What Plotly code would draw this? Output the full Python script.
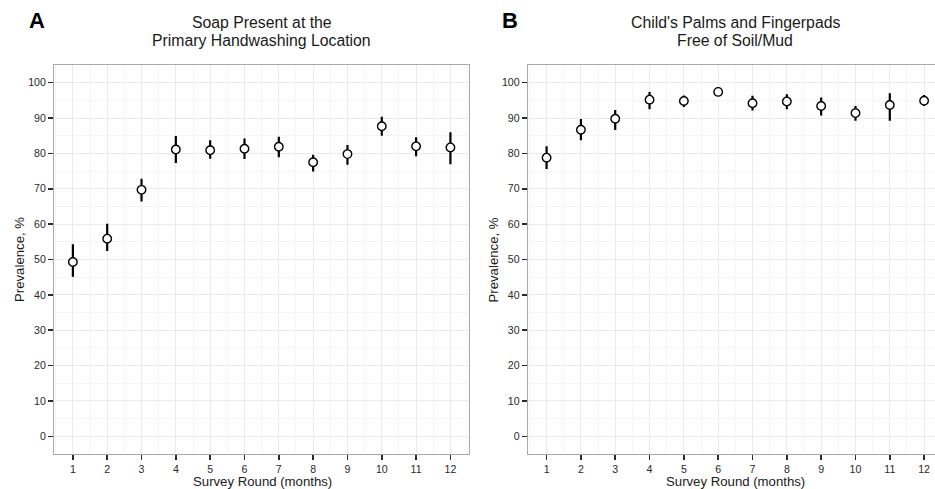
import plotly.graph_objects as go

W, H = 935, 489

rounds = list(range(1, 13))
soap = [49.3, 55.9, 69.7, 81.1, 80.9, 81.3, 81.9, 77.5, 79.8, 87.7, 82.0, 81.7]
soap_lo = [45.1, 52.4, 66.4, 77.3, 78.5, 78.4, 78.9, 74.9, 76.8, 85.0, 79.2, 76.9]
soap_hi = [54.3, 60.1, 72.8, 84.9, 83.7, 84.2, 84.7, 79.6, 82.4, 90.4, 84.6, 86.0]
palms = [78.8, 86.7, 89.8, 95.2, 94.8, 97.4, 94.2, 94.7, 93.4, 91.4, 93.7, 94.9]
palms_lo = [75.6, 83.7, 86.6, 92.5, 93.1, 96.2, 92.1, 92.5, 90.7, 89.2, 89.2, 93.4]
palms_hi = [82.0, 89.7, 92.3, 97.4, 96.4, 98.5, 96.3, 96.7, 95.8, 93.4, 97.0, 96.5]

y_ticks = [0, 10, 20, 30, 40, 50, 60, 70, 80, 90, 100]

FONT = "Liberation Sans, Arial, sans-serif"

def px_x(p):
    return p / W

def px_y(p):
    return 1 - p / H

fig = go.Figure()

def add_series(vals, lo, hi, xa, ya):
    fig.add_trace(go.Scatter(
        x=rounds, y=vals, mode="markers",
        xaxis=xa, yaxis=ya,
        marker=dict(symbol="circle", size=8.5, color="white",
                    line=dict(color="black", width=1.4)),
        error_y=dict(type="data", symmetric=False,
                     array=[h - v for h, v in zip(hi, vals)],
                     arrayminus=[v - l for v, l in zip(vals, lo)],
                     width=0, thickness=2.2, color="black"),
        showlegend=False, hoverinfo="x+y", cliponaxis=False,
    ))

add_series(soap, soap_lo, soap_hi, "x", "y")
add_series(palms, palms_lo, palms_hi, "x2", "y2")

ydom = [px_y(454), px_y(65)]
unit = (469.3 - 54) / 12.1
xr_b_end = 0.45 + (W - 527.7) / unit

common_x = dict(
    tickmode="array", tickvals=rounds, ticktext=[str(r) for r in rounds],
    showgrid=True, gridcolor="#ebebeb", gridwidth=1,
    minor=dict(dtick=0.5, tick0=0.5, showgrid=True, gridcolor="#f5f5f5", gridwidth=1, ticks=""),
    ticks="outside", ticklen=5, tickwidth=1.6, tickcolor="#2a2a2a",
    tickfont=dict(family=FONT, size=10.6, color="#2a2a2a"),
    showline=True, linecolor="#a9a9a9", linewidth=1, mirror=True,
    zeroline=False, fixedrange=True,
)
common_y = dict(
    tickmode="array", tickvals=y_ticks, ticktext=[str(v) for v in y_ticks],
    range=[-5, 105], domain=ydom,
    showgrid=True, gridcolor="#ebebeb", gridwidth=1,
    minor=dict(dtick=5, tick0=5, showgrid=True, gridcolor="#f5f5f5", gridwidth=1, ticks=""),
    ticks="outside", ticklen=5, tickwidth=1.6, tickcolor="#2a2a2a",
    tickfont=dict(family=FONT, size=10.6, color="#2a2a2a"),
    showline=True, linecolor="#a9a9a9", linewidth=1,
    zeroline=False, fixedrange=True,
)

fig.update_layout(
    width=W, height=H,
    margin=dict(l=0, r=0, t=0, b=0),
    paper_bgcolor="white", plot_bgcolor="white",
    font=dict(family=FONT, color="black"),
    xaxis=dict(common_x, domain=[px_x(54), px_x(469.3)], range=[0.45, 12.55], anchor="y"),
    yaxis=dict(common_y, anchor="x", mirror=True),
    xaxis2=dict(common_x, domain=[px_x(527.7), 1.0], range=[0.45, xr_b_end], anchor="y2"),
    yaxis2=dict(common_y, anchor="x2", mirror=False),
)

annos = []
def txt(x, y, s, size, bold=False, angle=0, color="black"):
    annos.append(dict(
        x=px_x(x), y=px_y(y), xref="paper", yref="paper",
        text=("<b>%s</b>" % s) if bold else s, showarrow=False,
        xanchor="center", yanchor="middle", textangle=angle,
        font=dict(family=FONT, size=size, color=color),
    ))

# panel letters
txt(37, 20, "A", 22, bold=True)
txt(510, 20, "B", 22, bold=True)
# titles
txt(261.7, 22.5, "Soap Present at the", 15.8, color="#1a1a1a")
txt(261.7, 40.5, "Primary Handwashing Location", 15.8, color="#1a1a1a")
txt(735.4, 22.5, "Child's Palms and Fingerpads", 15.8, color="#1a1a1a")
txt(735.4, 40.5, "Free of Soil/Mud", 15.8, color="#1a1a1a")
# axis titles
txt(19, 260, "Prevalence, %", 13.2, angle=-90, color="#1a1a1a")
txt(492.5, 260, "Prevalence, %", 13.2, angle=-90, color="#1a1a1a")
txt(262, 481, "Survey Round (months)", 13.2, color="#1a1a1a")
txt(735.5, 481, "Survey Round (months)", 13.2, color="#1a1a1a")

fig.update_layout(annotations=annos)

fig.write_html(
    "out.html",
    config={"displayModeBar": False, "staticPlot": True},
    post_script="document.body.style.margin='0px';document.body.style.overflow='hidden';",
)
